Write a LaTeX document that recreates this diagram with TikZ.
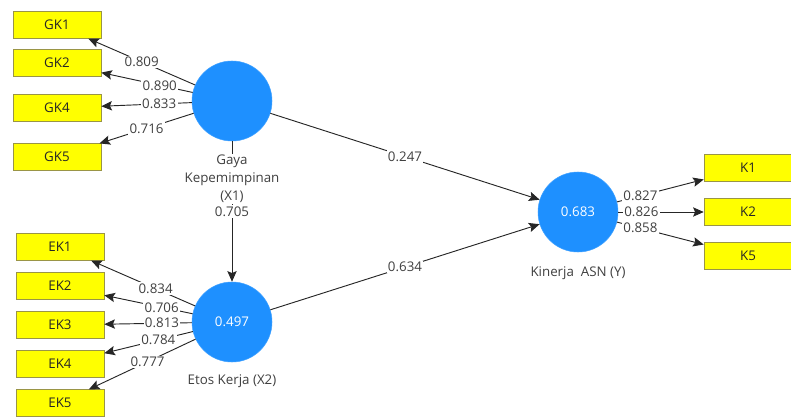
\documentclass[tikz,border=0pt]{standalone}
\usepackage{fontspec}
\setmainfont{Open Sans}
\usetikzlibrary{shapes,arrows.meta,positioning,calc}

\definecolor{indyellow}{RGB}{255,255,0}
\definecolor{latblue}{RGB}{30,144,255}

\begin{document}
\begin{tikzpicture}[
    x=0.75pt, y=-0.75pt,
    indicator/.style={rectangle, draw=black!45!yellow, fill=indyellow, minimum width=66pt, minimum height=20pt, inner sep=0pt, font=\fontsize{10}{12}\selectfont, text=black!85},
    latent/.style={circle, draw=latblue!85!white, fill=latblue, minimum size=60pt, inner sep=0pt, font=\fontsize{10}{12}\selectfont, text=white},
    arrow/.style={-{Stealth[length=8pt, width=7pt, inset=1.5pt]}, line width=0.7pt, black!85},
    weight/.style={fill=white, inner sep=1pt, font=\fontsize{10}{12}\selectfont, text=black!75},
    varname/.style={fill=white, inner sep=1pt, align=center, font=\fontsize{10}{13.5}\selectfont, text=black!75}
]
\useasboundingbox (0,0) rectangle (791,417);

% Latent variables
\node[latent] (x1) at (232,101) {};
\node[latent] (x2) at (232,322) {0.497};
\node[latent] (y) at (578,212) {0.683};

% Indicators of X1
\node[indicator] (gk1) at (57,25) {GK1};
\node[indicator] (gk2) at (57,63) {GK2};
\node[indicator] (gk4) at (57,108) {GK4};
\node[indicator] (gk5) at (57,157) {GK5};

% Indicators of X2
\node[indicator] (ek1) at (60,247) {EK1};
\node[indicator] (ek2) at (60,286) {EK2};
\node[indicator] (ek3) at (60,325) {EK3};
\node[indicator] (ek4) at (60,364) {EK4};
\node[indicator] (ek5) at (60,403) {EK5};

% Indicators of Y
\node[indicator] (k1) at (748,168) {K1};
\node[indicator] (k2) at (748,212) {K2};
\node[indicator] (k5) at (748,256) {K5};

% Outer loadings X1
\draw[arrow] (x1) -- node[weight, pos=0.5] {0.809} (gk1);
\draw[arrow] (x1) -- node[weight, pos=0.36] {0.890} (gk2);
\draw[arrow] (x1) -- node[weight, pos=0.36] {0.833} (gk4);
\draw[arrow] (x1) -- node[weight, pos=0.5] {0.716} (gk5);

% Outer loadings X2
\draw[arrow] (x2) -- node[weight, pos=0.38] {0.834} (ek1);
\draw[arrow] (x2) -- node[weight, pos=0.35] {0.706} (ek2);
\draw[arrow] (x2) -- node[weight, pos=0.34] {0.813} (ek3);
\draw[arrow] (x2) -- node[weight, pos=0.39] {0.784} (ek4);
\draw[arrow] (x2) -- node[weight, pos=0.45] {0.777} (ek5);

% Outer loadings Y
\draw[arrow] (y) -- node[weight, pos=0.27] {0.827} (k1);
\draw[arrow] (y) -- node[weight, pos=0.27] {0.826} (k2);
\draw[arrow] (y) -- node[weight, pos=0.27] {0.858} (k5);

% Inner model
\draw[arrow] (x1) -- node[weight, pos=0.5] {0.705} (x2);
\draw[arrow] (x1) -- node[weight] {0.247} (y);
\draw[arrow] (x2) -- node[weight] {0.634} (y);

% Construct names
\node[varname, below=9pt of x1] (x1name) {Gaya\\Kepemimpinan\\(X1)};
\node[varname, below=8pt of x2] (x2name) {Etos Kerja (X2)};
\node[varname, below=10pt of y] (yname) {Kinerja\ \ ASN (Y)};

\end{tikzpicture}
\end{document}
